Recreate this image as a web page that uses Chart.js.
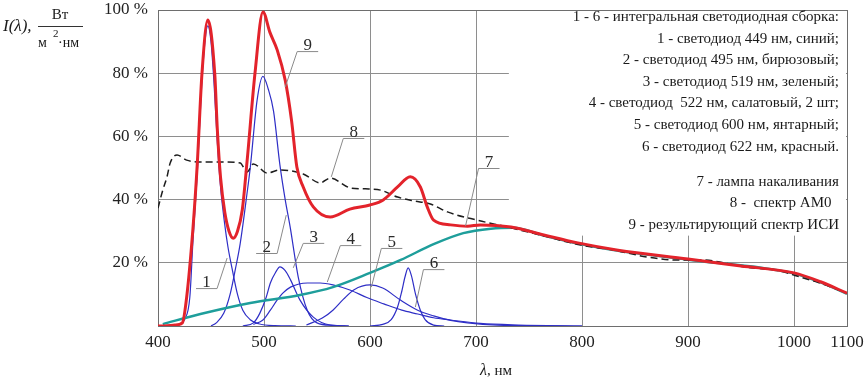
<!DOCTYPE html>
<html>
<head>
<meta charset="utf-8">
<script src="https://cdn.jsdelivr.net/npm/chart.js@4.4.0/dist/chart.umd.min.js"></script>
<style>
  html, body { margin: 0; padding: 0; background: #fff; }
</style>
</head>
<body>
<canvas id="spectrum" width="865" height="385"></canvas>
<script>
// tick labels
const wavelengthTicks = [400, 500, 600, 700, 800, 900, 1000, 1100]
const percentTicks = [0, 20, 40, 60, 80, 100]

// series as [wavelength nm, intensity %]
const led449 = [[410, 0], [420, 0.5], [425, 2], [430, 9], [433, 27], [437, 48], [441, 75], [444, 89], [447, 95], [450, 90], [453, 76], [456, 58], [459, 44], [463, 32], [466, 25], [470, 18], [475, 10], [480, 5], [487, 2], [495, 0.7], [510, 0.1], [530, 0]]
const led495 = [[450, 0], [455, 1], [462, 4], [468, 10], [473, 18], [477.5, 26], [484, 42], [487, 50], [493.5, 71.5], [499, 79], [504, 75], [509, 68], [515, 51], [520, 40], [524.7, 31.3], [532.3, 15.5], [540.8, 5], [550, 1], [565, 0.2], [580, 0]]
const led519 = [[480, 0], [490, 1], [496, 4], [502, 9], [506, 13.6], [511, 17], [515, 18.7], [520, 17.5], [525, 14.6], [534, 8.2], [546.5, 2.8], [562.5, 0.3], [580, 0]]
const led522 = [[490, 0.5], [499, 1.9], [506, 5], [512, 8], [518, 10.5], [525, 12.3], [533, 13.3], [541, 13.6], [553, 13.6], [565, 13], [581, 11.4], [597, 9], [613, 7], [630, 5], [645, 3.8], [660, 2.6], [676, 1.9], [704, 0.8], [740, 0.3], [800, 0]]
const led600 = [[540, 0.3], [555, 2.5], [565, 5], [575, 8.5], [585, 11.5], [600, 13], [612, 12], [628.7, 8.2], [645, 5], [660, 3.2], [676, 1.8], [692, 1], [720, 0.3], [800, 0]]
const led622 = [[600, 0], [612, 0.5], [620, 2], [626, 6], [630, 11], [633, 15.5], [636, 18.4], [639, 16], [643, 10], [647.5, 5], [652, 2], [660, 0.3], [670, 0]]
const lampSpectrum = [[404.5, 0.6], [440, 3.8], [487, 7.3], [534, 9.8], [565, 12.3], [600, 16.8], [629, 20.9], [660, 25.9], [688, 29.4], [714, 30.8], [735, 31.1], [764, 28.6], [796, 26.1], [834, 23.8], [900, 21], [1000, 16.6], [1050, 13.8], [1100, 10.2]]
const am0Spectrum = [[400, 37.3], [404.5, 43], [408.5, 47.2], [411.5, 51.6], [418, 54.1], [427, 52.5], [440, 51.9], [458.5, 51.9], [477.5, 51.6], [484, 48.7], [490, 51.3], [503, 48.4], [515, 49.4], [537, 48.1], [553, 45.3], [562.5, 46.8], [581.5, 43.7], [595.5, 43.4], [610, 43], [626, 40.8], [641, 39.6], [657, 38.6], [673, 36.1], [701, 33.5], [730, 31.3], [767.5, 28.2], [799, 25.6], [830, 24], [862, 21.8], [887, 20.9], [912, 20.9], [959, 18.4], [983, 17.7], [1000, 16.1], [1050, 13.5], [1100, 10.4]]
const resultSpectrum = [[400, 0], [406, 0], [416, 0.3], [423, 1], [427, 9], [433, 31], [437, 51], [441.5, 80], [447, 96.8], [453.5, 80], [456, 62], [459, 47], [463, 36], [467, 30], [471, 27.8], [475, 30], [479.5, 36.7], [484, 52], [491.5, 80], [499, 99.4], [505.5, 93], [512.5, 87.3], [520, 77.8], [526, 65], [531, 50.3], [537, 44], [546.5, 37.7], [562.5, 34.5], [581, 37], [600, 38.3], [612.5, 39.9], [626, 44], [638, 47.2], [647.5, 44], [654, 37.7], [660, 33.5], [676, 32], [692, 31.6], [704, 32], [733, 31.3], [764, 28.8], [796, 26.3], [834, 24], [900, 21.2], [950, 19], [1000, 16.8], [1050, 14], [1100, 10.4]]

// callout numbers: text, underline anchor [nm, %], which way the underline runs, leader target [nm, %]
const callouts = [
  ['1', [455.7, 12.0], -1, [465.2, 21.5]],
  ['2', [512.4, 23.1], -1, [521, 35.1]],
  ['3', [537, 26.3], 1, [527.6, 18.4]],
  ['4', [572, 25.6], 1, [559.7, 13.9]],
  ['5', [610.7, 24.7], 1, [601.3, 12.3]],
  ['6', [650.4, 18.0], 1, [642.8, 6.0]],
  ['7', [702.4, 50.0], 1, [690.1, 31.6]],
  ['8', [574.8, 59.5], 1, [563.5, 47.2]],
  ['9', [531.3, 87.0], 1, [520, 75.6]]
]

const legendLines = [
  '1 - 6 - интегральная светодиодная сборка:',
  '1 - светодиод 449 нм, синий;',
  '2 - светодиод 495 нм, бирюзовый;',
  '3 - светодиод 519 нм, зеленый;',
  '4 - светодиод  522 нм, салатовый, 2 шт;',
  '5 - светодиод 600 нм, янтарный;',
  '6 - светодиод 622 нм, красный.',
  '',
  '7 - лампа накаливания',
  '8 -  спектр АМ0  ',
  '9 - результирующий спектр ИСИ'
]

// the axis is squeezed after 1000 nm (1000..1100 takes half a step)
const axisX = nm => nm <= 1000 ? nm : 1000 + (nm - 1000) / 2
const axisToNm = v => v <= 1000 ? v : Math.round(1000 + (v - 1000) * 2)
const toPoints = pairs => pairs.map(([nm, v]) => ({ x: axisX(nm), y: v }))

const SERIF = '"Liberation Serif", "DejaVu Serif", serif'
const ledColor = '#2e2ec6'

function ledSet(pairs) {
  return { data: toPoints(pairs), borderColor: ledColor, borderWidth: 1.2, order: 3 }
}

const decorations = {
  id: 'decorations',
  beforeDatasetsDraw(chart) {
    const { ctx, chartArea: a, scales: { x, y } } = chart
    // white area behind the legend text hides the grid
    const bx = x.getPixelForValue(731)
    const by = y.getPixelForValue(28.6)
    ctx.save()
    ctx.fillStyle = '#fff'
    ctx.fillRect(bx, a.top + 1, a.right - bx - 1, by - a.top - 1)
    ctx.strokeStyle = '#6e6e6e'
    ctx.lineWidth = 1
    ctx.strokeRect(a.left + 0.5, a.top + 0.5, a.right - a.left, a.bottom - a.top)
    ctx.restore()
  },
  afterDatasetsDraw(chart) {
    const { ctx, chartArea: a, scales: { x, y } } = chart
    ctx.save()

    // callouts
    ctx.strokeStyle = '#8a8a8a'
    ctx.lineWidth = 1
    ctx.fillStyle = '#2a2a2a'
    ctx.font = '17px ' + SERIF
    ctx.textAlign = 'center'
    ctx.textBaseline = 'alphabetic'
    callouts.forEach(([label, anchor, dir, target]) => {
      const ax = x.getPixelForValue(axisX(anchor[0]))
      const ay = y.getPixelForValue(anchor[1])
      const tx = x.getPixelForValue(axisX(target[0]))
      const ty = y.getPixelForValue(target[1])
      const ex = ax + dir * 21
      ctx.beginPath()
      ctx.moveTo(ex, ay + 0.5)
      ctx.lineTo(ax, ay + 0.5)
      ctx.lineTo(tx, ty)
      ctx.stroke()
      ctx.fillText(label, (ax + ex) / 2, ay - 1)
    })

    // legend text
    ctx.fillStyle = '#1a1a1a'
    ctx.font = '15px ' + SERIF
    ctx.textAlign = 'right'
    ctx.textBaseline = 'middle'
    let ly = 17
    legendLines.forEach(line => {
      if (line) ctx.fillText(line, a.right - 8, ly)
      ly += line ? 21.6 : 13.5
    })

    // y axis title  I(λ), Вт/(м²·нм)
    ctx.textAlign = 'left'
    ctx.textBaseline = 'middle'
    ctx.font = 'italic 17px ' + SERIF
    ctx.fillText('I(λ),', 3, 27)
    ctx.font = '15px ' + SERIF
    ctx.textAlign = 'center'
    ctx.fillText('Вт', 60, 15)
    ctx.strokeStyle = '#333'
    ctx.beginPath()
    ctx.moveTo(38, 26.5)
    ctx.lineTo(83, 26.5)
    ctx.stroke()
    ctx.textAlign = 'left'
    ctx.font = '14px ' + SERIF
    ctx.fillText('м', 38, 43)
    ctx.font = '11px ' + SERIF
    ctx.fillText('2', 53, 34)
    ctx.font = '14px ' + SERIF
    ctx.fillText('·нм', 58, 43)

    // x axis title  λ, нм
    ctx.textAlign = 'left'
    ctx.font = 'italic 16px ' + SERIF
    const lx = 480
    ctx.fillText('λ', lx, 371)
    const lw = ctx.measureText('λ').width
    ctx.font = '15px ' + SERIF
    ctx.fillText(', нм', lx + lw, 371)

    ctx.restore()
  }
}

new Chart(document.getElementById('spectrum'), {
  type: 'line',
  data: {
    datasets: [
      { data: toPoints(resultSpectrum), borderColor: '#e3232b', borderWidth: 3, order: 0 },
      { data: toPoints(am0Spectrum), borderColor: '#1e1e1e', borderWidth: 1.5, borderDash: [7, 4], order: 1 },
      { data: toPoints(lampSpectrum), borderColor: '#1e9e9b', borderWidth: 2.5, order: 2 },
      ledSet(led449),
      ledSet(led495),
      ledSet(led519),
      ledSet(led522),
      ledSet(led600),
      ledSet(led622)
    ]
  },
  options: {
    responsive: false,
    animation: false,
    devicePixelRatio: 1,
    layout: { padding: 0 },
    elements: {
      point: { radius: 0 },
      line: { cubicInterpolationMode: 'monotone', fill: false }
    },
    plugins: {
      legend: { display: false },
      tooltip: { enabled: false }
    },
    scales: {
      x: {
        type: 'linear',
        min: 400,
        max: axisX(1100),
        afterBuildTicks: s => { s.ticks = wavelengthTicks.map(nm => ({ value: axisX(nm) })) },
        afterFit: s => {
          s.height = 59
          s.paddingRight = 18
          s.paddingLeft = 0
        },
        ticks: {
          callback: v => String(axisToNm(v)),
          autoSkip: false,
          maxRotation: 0,
          padding: 6,
          color: '#222',
          font: { family: SERIF, size: 17 }
        },
        grid: { color: '#8e8e8e', lineWidth: 1, drawTicks: false },
        border: { color: '#6e6e6e' }
      },
      y: {
        min: 0,
        max: 100,
        afterBuildTicks: s => { s.ticks = percentTicks.map(v => ({ value: v })) },
        afterFit: s => {
          s.width = 158
          s.paddingTop = 10
          s.paddingBottom = 0
        },
        ticks: {
          callback: v => v === 0 ? '' : v + ' %',
          padding: 10,
          color: '#222',
          font: { family: SERIF, size: 17 }
        },
        grid: { color: '#8e8e8e', lineWidth: 1, drawTicks: false },
        border: { color: '#6e6e6e' }
      }
    }
  },
  plugins: [decorations]
})
</script>
</body>
</html>
